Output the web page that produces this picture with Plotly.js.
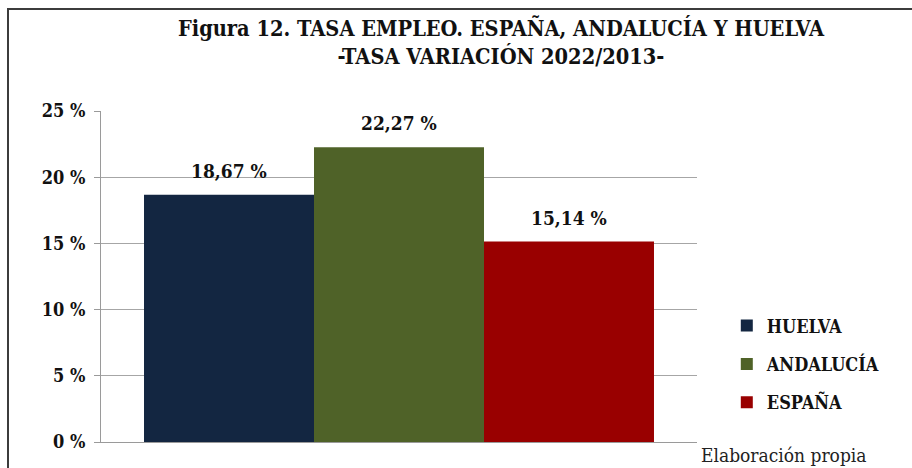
<!DOCTYPE html>
<html>
<head>
<meta charset="utf-8">
<script src="https://cdn.plot.ly/plotly-3.0.1.min.js"></script>
<style>
html,body{margin:0;padding:0;background:#fff;}
#wrap{position:relative;width:912px;height:468px;overflow:hidden;}
#chart{position:absolute;left:0;top:0;width:912px;height:468px;}
#frame{position:absolute;left:7px;top:8px;width:940px;height:500px;border-left:2px solid #3c3c3c;border-top:2px solid #3c3c3c;pointer-events:none;}
</style>
</head>
<body>
<div id="wrap"><div id="chart"></div><div id="frame"></div></div>
<script>
const categories = ['HUELVA', 'ANDALUCÍA', 'ESPAÑA'];
const values = [18.67, 22.27, 15.14];
const colors = ['#132641', '#4f6228', '#990000'];
const yTickVals = [0, 5, 10, 15, 20, 25];
const yTickText = ['0 %', '5 %', '10 %', '15 %', '20 %', '25 %'];
const titleText = 'Figura 12. TASA EMPLEO. ESPAÑA, ANDALUCÍA Y HUELVA<br>-TASA VARIACIÓN 2022/2013-';
const sourceText = 'Elaboración propia';

const SERIF = '"DejaVu Serif Condensed", "DejaVu Serif", serif';

const traces = categories.map((c, i) => ({
  type: 'bar',
  name: c,
  x: [c],
  y: [values[i]],
  width: 1,
  legendgroup: c,
  marker: {color: colors[i], line: {width: 0}},
  hoverinfo: 'name+y'
}));

const fmt = v => v.toFixed(2).replace('.', ',') + ' %';

const annotations = categories.map((c, i) => ({
  x: c, y: values[i], xref: 'x', yref: 'y',
  text: fmt(values[i]), showarrow: false,
  yanchor: 'bottom', yshift: 11,
  font: {family: SERIF, size: 19, color: '#111', weight: 'bold'}
}));
annotations.push({
  xref: 'paper', yref: 'paper', x: 1.003, y: -0.04,
  xanchor: 'left', yanchor: 'middle',
  text: sourceText, showarrow: false,
  font: {family: SERIF, size: 19, color: '#222'}
});

const layout = {
  width: 912, height: 468,
  margin: {l: 101, r: 215, t: 111, b: 26},
  paper_bgcolor: '#fff', plot_bgcolor: '#fff',
  barmode: 'overlay',
  separators: ',.',
  title: {
    text: titleText,
    x: 501 / 912, xref: 'container', xanchor: 'center',
    y: 1 - 36 / 468, yref: 'container', yanchor: 'top',
    font: {family: SERIF, size: 21.6, color: '#111', weight: 'bold'}
  },
  xaxis: {
    type: 'category', categoryarray: categories, categoryorder: 'array',
    range: [-0.753, 2.753], showticklabels: false, ticks: '',
    showgrid: false, zeroline: false,
    showline: true, linecolor: '#9a9a9a', linewidth: 1
  },
  yaxis: {
    range: [0, 25], tickmode: 'array', tickvals: yTickVals, ticktext: yTickText,
    showgrid: true, gridcolor: '#a6a6a6', gridwidth: 1,
    zeroline: false, showline: true, linecolor: '#9a9a9a', linewidth: 1,
    ticks: 'outside', ticklen: 6, tickcolor: '#9a9a9a',
    ticklabelstandoff: 5,
    tickfont: {family: SERIF, size: 18, color: '#111', weight: 'bold'}
  },
  legend: {
    x: 1.05, y: 0.407, xanchor: 'left', yanchor: 'top',
    font: {family: SERIF, size: 18, color: '#111', weight: 'bold'},
    tracegroupgap: 12, itemwidth: 30, bgcolor: 'rgba(0,0,0,0)'
  },
  showlegend: true,
  annotations: annotations
};

Plotly.newPlot('chart', traces, layout, {displayModeBar: false, staticPlot: true});
</script>
</body>
</html>
